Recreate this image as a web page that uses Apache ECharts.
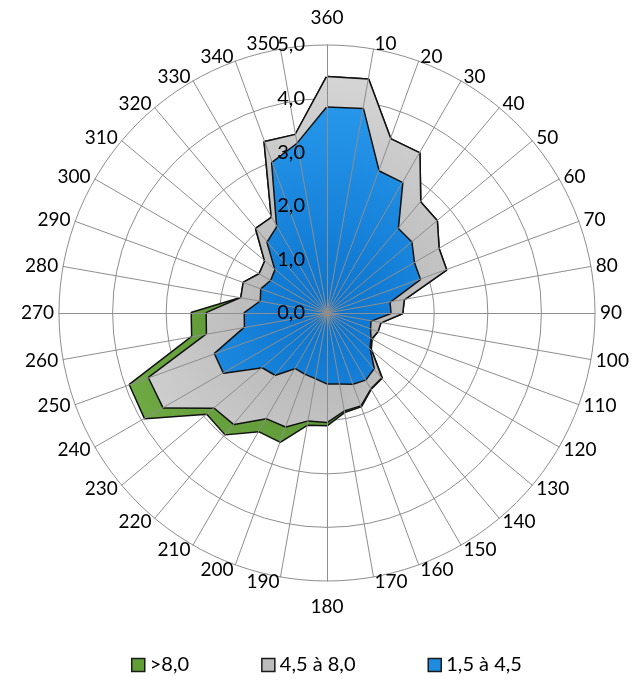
<!DOCTYPE html>
<html>
<head>
<meta charset="utf-8">
<script src="https://cdn.jsdelivr.net/npm/echarts@6/dist/echarts.min.js"></script>
<style>
  html, body { margin: 0; padding: 0; background: #ffffff; }
  #chart { width: 640px; height: 682px; }
</style>
</head>
<body>
<div id="chart"></div>
<script>
// Wind directions (degrees), clockwise from north
const directions = [10, 20, 30, 40, 50, 60, 70, 80, 90, 100, 110, 120,
  130, 140, 150, 160, 170, 180, 190, 200, 210, 220, 230, 240,
  250, 260, 270, 280, 290, 300, 310, 320, 330, 340, 350, 360];

// Frequency (%) per speed class and direction
const speed15to45 = [3.86, 2.81, 2.80, 2.05, 2.05, 1.87, 1.84, 1.18, 1.18, 0.82, 0.85, 0.93,
  1.03, 1.35, 1.43, 1.40, 1.33, 1.31, 1.23, 1.20, 1.18, 1.50, 1.57, 2.22,
  2.22, 1.55, 1.53, 1.25, 1.30, 1.20, 1.25, 1.72, 1.85, 2.98, 3.20, 3.83];
const speed45to80 = [0.56, 0.64, 0.64, 0.65, 0.62, 0.53, 0.52, 0.27, 0.22, 0.19, 0.15, 0.02,
  0.03, 0.22, 0.19, 0.43, 0.51, 0.72, 0.80, 1.05, 1.08, 1.20, 1.17, 1.30,
  1.31, 0.72, 0.71, 0.37, 0.35, 0.25, 0.25, 0.33, 0.20, 0.41, 0.17, 0.57];
const speedOver80 = [0, 0, 0, 0, 0, 0, 0, 0, 0, 0, 0, 0,
  0, 0.01, 0.01, 0.02, 0.03, 0.06, 0.08, 0.30, 0.28, 0.25, 0.18, 0.40,
  0.38, 0.28, 0.28, 0, 0, 0, 0, 0, 0, 0, 0, 0];

const classNames = ['>8,0', '4,5 à 8,0', '1,5 à 4,5'];
const radialTicks = ['0,0', '1,0', '2,0', '3,0', '4,0', '5,0'];

// Radar indicators run counter-clockwise, so list directions from 360 downwards
const order = directions.map((d, i) => i).reverse();
const cumLow = speed15to45.slice();
const cumMid = speed15to45.map((v, i) => v + speed45to80[i]);
const cumHigh = cumMid.map((v, i) => v + speedOver80[i]);
const pick = arr => order.map(i => +arr[i].toFixed(2));

const baseIndicator = order.map(i => ({ name: String(directions[i]), min: 0, max: 5 }));
const labelIndicator = order.map((i, k) => {
  const ind = { name: String(directions[i]), min: 0, max: 5 };
  if (k === 0) ind.axisLabel = { show: true };
  return ind;
});

const CX = 327, CY = 313, R = 268;
const FONT = 'Lato';
const NAME_STYLE = { color: '#000', fontSize: 19, fontFamily: FONT };

function radial(inner, outer) {
  return new echarts.graphic.RadialGradient(CX, CY, R, [
    { offset: 0, color: inner },
    { offset: 1, color: outer }
  ], true);
}

const chart = echarts.init(document.getElementById('chart'), null, { renderer: 'canvas' });

chart.setOption({
  backgroundColor: '#ffffff',
  animation: false,
  textStyle: { fontFamily: FONT },
  legend: {
    data: classNames,
    bottom: 2,
    left: 126,
    icon: 'rect',
    itemWidth: 13,
    itemHeight: 13,
    itemGap: 72,
    itemStyle: { borderColor: '#1a1a1a', borderWidth: 1.5 },
    textStyle: { fontSize: 20, fontFamily: FONT, color: '#000' }
  },
  radar: [
    {
      // concentric circles beneath the areas
      indicator: baseIndicator,
      center: [CX, CY],
      radius: R,
      startAngle: 90,
      shape: 'circle',
      splitNumber: 5,
      axisName: { show: false },
      axisLine: { show: false },
      axisTick: { show: false },
      axisLabel: { show: false },
      splitArea: { show: false },
      splitLine: { lineStyle: { color: '#8e8e8e', width: 1 } },
      z: 0
    },
    {
      // spokes, direction names and value labels over the areas
      indicator: labelIndicator,
      center: [CX, CY],
      radius: R,
      startAngle: 90,
      shape: 'circle',
      splitNumber: 5,
      axisNameGap: 5,
      axisName: Object.assign({
        // north and south names sit a little further out
        formatter: name => name === '360' ? '{n|360}' : (name === '180' ? '{s|180}' : name),
        rich: {
          n: Object.assign({ padding: [0, 0, 13, 0] }, NAME_STYLE),
          s: Object.assign({ padding: [11, 0, 0, 0] }, NAME_STYLE)
        }
      }, NAME_STYLE),
      axisLine: { lineStyle: { color: '#8e8e8e', width: 1 } },
      axisTick: { show: false },
      axisLabel: {
        show: false, color: '#000', fontSize: 20, fontFamily: FONT, margin: 22,
        formatter: v => radialTicks[Math.round(v)]
      },
      splitArea: { show: false },
      splitLine: { show: false },
      z: 10
    }
  ],
  series: [
    {
      type: 'radar', name: classNames[0], radarIndex: 0, z: 2, symbol: 'none',
      itemStyle: { color: '#629e38' },
      lineStyle: { color: '#111', width: 3 },
      areaStyle: { color: radial('#4f8c2b', '#78b14a'), opacity: 1 },
      data: [{ name: classNames[0], value: pick(cumHigh) }]
    },
    {
      type: 'radar', name: classNames[1], radarIndex: 0, z: 3, symbol: 'none',
      itemStyle: { color: '#bdbdbd' },
      lineStyle: { color: '#111', width: 3 },
      areaStyle: { color: radial('#b0b0b0', '#dadada'), opacity: 1 },
      data: [{ name: classNames[1], value: pick(cumMid) }]
    },
    {
      type: 'radar', name: classNames[2], radarIndex: 0, z: 4, symbol: 'none',
      itemStyle: { color: '#1e8ce0' },
      lineStyle: { color: '#111', width: 3 },
      areaStyle: { color: radial('#0b72cc', '#2ea2f4'), opacity: 1 },
      data: [{ name: classNames[2], value: pick(cumLow) }]
    }
  ]
});
</script>
</body>
</html>
